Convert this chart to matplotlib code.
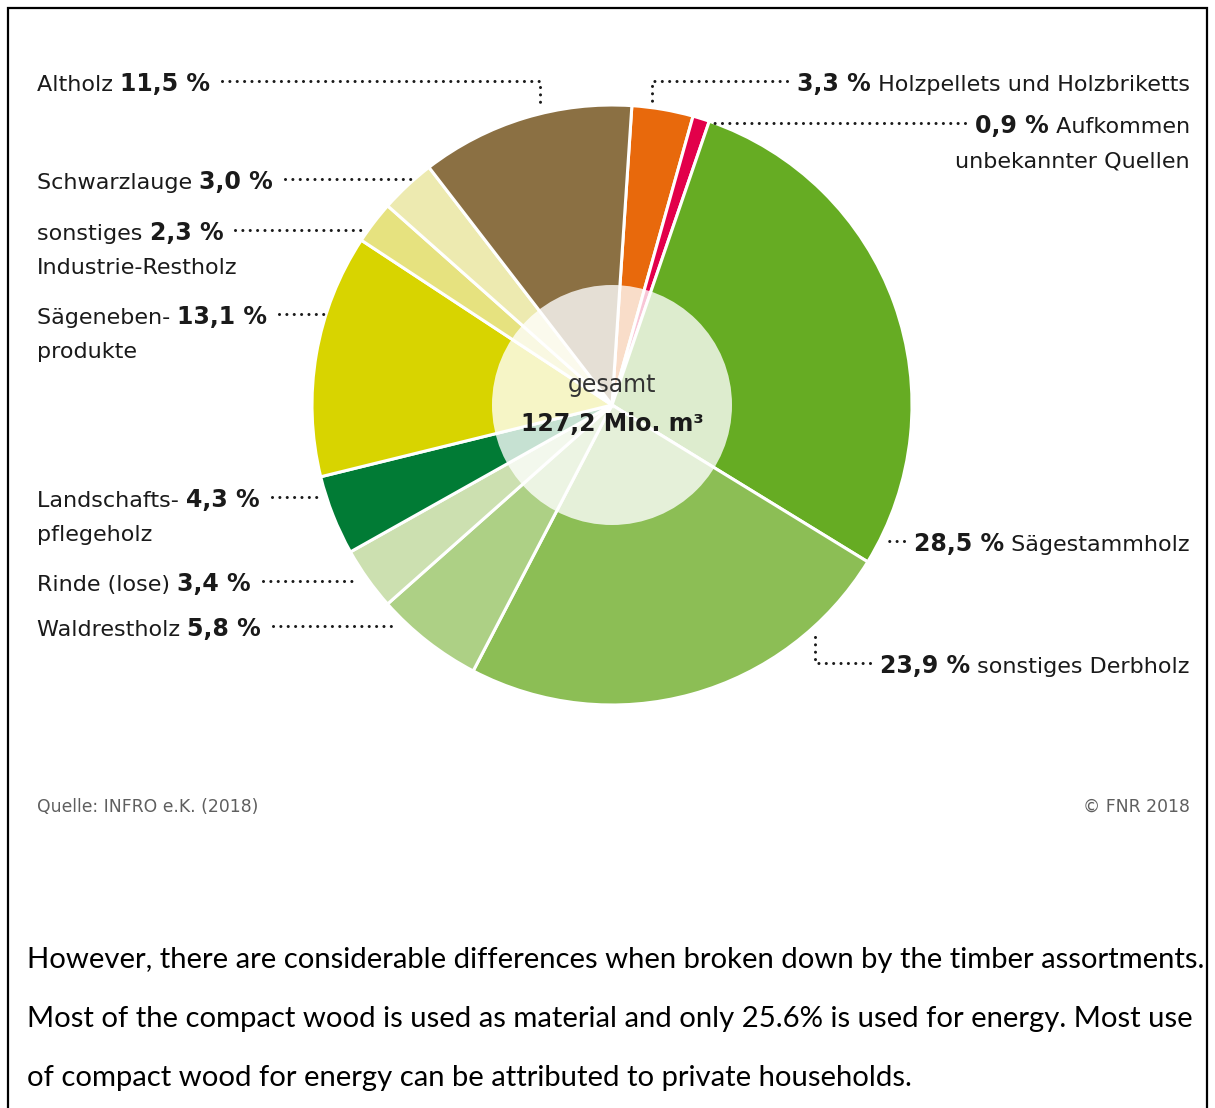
import matplotlib
matplotlib.use("Agg")
import matplotlib.pyplot as plt
from matplotlib.patches import Circle

W, H = 1215, 1108

# slices, clockwise from the top
names = ["Holzpellets und Holzbriketts", "Aufkommen unbekannter Quellen", "Sägestammholz",
         "sonstiges Derbholz", "Waldrestholz", "Rinde (lose)", "Landschaftspflegeholz",
         "Sägenebenprodukte", "sonstiges Industrie-Restholz", "Schwarzlauge", "Altholz"]
shares = [3.3, 0.9, 28.5, 23.9, 5.8, 3.4, 4.3, 13.1, 2.3, 3.0, 11.5]
colors = ["#e8690c", "#e2004a", "#66ac23", "#8cbe55", "#add085", "#cce0b0", "#017b35",
          "#d8d400", "#e6e27f", "#edeab0", "#8b7043"]
total_text = "127,2 Mio. m³"
source = "Quelle: INFRO e.K. (2018)"
copyright_text = "© FNR 2018"
paragraph = ["However, there are considerable differences when broken down by the timber assortments.",
             "Most of the compact wood is used as material and only 25.6% is used for energy. Most use",
             "of compact wood for energy can be attributed to private households."]

# label layout (pixel coords from top): slice index, line 1, line 2, baseline, leader end points
left_labels = [
    (10, "Altholz", None, 91, [(540, 81), (540, 106)]),
    (9, "Schwarzlauge", None, 189, [(415, 179)]),
    (8, "sonstiges", "Industrie-Restholz", 240, [(365, 230)]),
    (7, "Sägeneben-", "produkte", 324, [(325, 314)]),
    (6, "Landschafts-", "pflegeholz", 507, [(322, 497)]),
    (5, "Rinde (lose)", None, 591, [(358, 581)]),
    (4, "Waldrestholz", None, 636, [(395, 626)]),
]
right_labels = [
    (0, "Holzpellets und Holzbriketts", None, 91, [(652, 81), (652, 106)]),
    (1, "Aufkommen", "unbekannter Quellen", 133, [(712, 123)]),
    (2, "Sägestammholz", None, 551, [(888, 541)]),
    (3, "sonstiges Derbholz", None, 673, [(815, 663), (815, 636)]),
]

CX, CY, R = 612, 405, 300
TXT = "#1a1a1a"
FS = 16
FS_B = 17


def Y(y):
    return H - y


def pct(v):
    return f"{v:.1f}".replace(".", ",") + " %"


fig = plt.figure(figsize=(W / 100, H / 100), dpi=100)
ax = fig.add_axes([0, 0, 1, 1])
ax.pie(shares, colors=colors, startangle=86.2, counterclock=False, radius=R,
       center=(CX, Y(CY)), wedgeprops=dict(edgecolor="white", linewidth=2.2))
ax.add_patch(Circle((CX, Y(CY)), 120, facecolor="white", alpha=0.78, lw=0, zorder=5))
ax.set_xlim(0, W)
ax.set_ylim(0, H)
ax.set_aspect("auto")
ax.axis("off")

renderer = fig.canvas.get_renderer()


def width(t):
    bb = t.get_window_extent(renderer)
    return bb.x0, bb.x1


def leader(pts):
    xs = [p[0] for p in pts]
    ys = [Y(p[1]) for p in pts]
    ax.plot(xs, ys, color=TXT, lw=2.2, linestyle=(0, (0.01, 2.4)),
            dash_capstyle="round", solid_capstyle="round", zorder=6)


for idx, l1, l2, base, path in left_labels:
    t1 = ax.text(37, Y(base), l1 + " ", fontsize=FS, color=TXT, va="baseline", ha="left")
    _, x1 = width(t1)
    t2 = ax.text(x1, Y(base), pct(shares[idx]), fontsize=FS_B, fontweight="bold", color=TXT,
                 va="baseline", ha="left")
    _, x2 = width(t2)
    if l2:
        ax.text(37, Y(base + 34), l2, fontsize=FS, color=TXT, va="baseline", ha="left")
    leader([(x2 + 12, base - 10)] + path)

for idx, l1, l2, base, path in right_labels:
    t1 = ax.text(1190, Y(base), " " + l1, fontsize=FS, color=TXT, va="baseline", ha="right")
    x0, _ = width(t1)
    t2 = ax.text(x0, Y(base), pct(shares[idx]), fontsize=FS_B, fontweight="bold", color=TXT,
                 va="baseline", ha="right")
    x0b, _ = width(t2)
    if l2:
        ax.text(1190, Y(base + 35), l2, fontsize=FS, color=TXT, va="baseline", ha="right")
    leader([(x0b - 10, base - 10)] + path)

# centre text
ax.text(CX, Y(392), "gesamt", fontsize=FS + 1, color="#333333", ha="center", va="baseline", zorder=7)
ax.text(CX, Y(431), total_text, fontsize=FS_B, fontweight="bold", color=TXT,
        ha="center", va="baseline", zorder=7)

# source line
cond = ["DejaVu Sans Condensed", "Liberation Sans Narrow", "DejaVu Sans"]
q = ax.text(37, Y(812), source, fontsize=13, color="#5f5f5f", family=cond, va="baseline")
a, b = width(q)
q.set_fontsize(13 * 221 / (b - a))
c = ax.text(1190, Y(812), copyright_text, fontsize=13, color="#5f5f5f", family=cond,
            va="baseline", ha="right")
c.set_fontsize(q.get_fontsize())

# paragraph below the figure
p_fs = 18
lines = []
for i, s in enumerate(paragraph):
    lines.append(ax.text(27, Y(968 + 59 * i), s, fontsize=p_fs, color="black",
                         family=["Lato", "DejaVu Sans"], va="baseline"))
a, b = width(lines[0])
for t in lines:
    t.set_fontsize(p_fs * 1176 / (b - a))

# frame around the picture
ax.plot([8, 8, 1207, 1207], [0, Y(8), Y(8), 0], color="black", lw=1.6,
        solid_joinstyle="miter", zorder=8)

fig.savefig("out.png", dpi=100)
